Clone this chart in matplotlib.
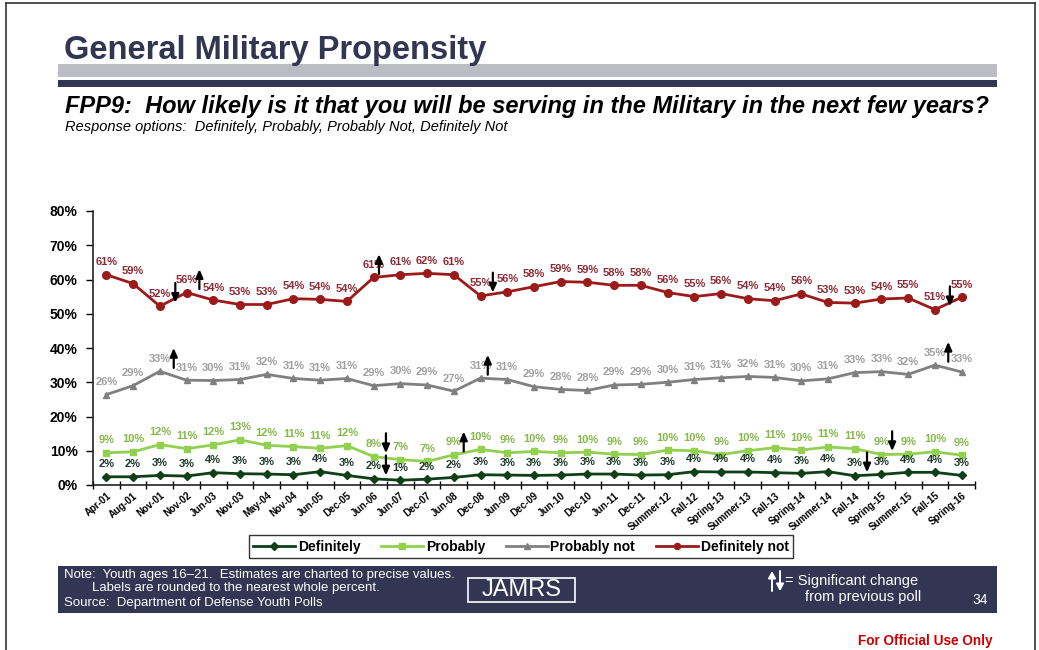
import matplotlib
matplotlib.use("Agg")
import matplotlib.pyplot as plt
from matplotlib.patches import Rectangle, FancyArrowPatch
from matplotlib.lines import Line2D
import numpy as np

plt.rcParams['font.family'] = ['Liberation Sans', 'DejaVu Sans']

# Survey waves
waves = ["Apr-01", "Aug-01", "Nov-01", "Nov-02", "Jun-03", "Nov-03", "May-04", "Nov-04",
         "Jun-05", "Dec-05", "Jun-06", "Jun-07", "Dec-07", "Jun-08", "Dec-08", "Jun-09",
         "Dec-09", "Jun-10", "Dec-10", "Jun-11", "Dec-11", "Summer-12", "Fall-12",
         "Spring-13", "Summer-13", "Fall-13", "Spring-14", "Summer-14", "Fall-14",
         "Spring-15", "Summer-15", "Fall-15", "Spring-16"]

# Response shares (%)
definitely = [2.4, 2.4, 2.8, 2.6, 3.6, 3.3, 3.2, 3.0, 3.9, 2.8, 1.8, 1.4, 1.7, 2.2, 3.0, 2.9,
              2.8, 2.9, 3.2, 3.2, 2.9, 3.0, 3.9, 3.8, 3.8, 3.6, 3.4, 3.9, 2.7, 3.1, 3.7, 3.7, 2.8]
probably = [9.4, 9.7, 11.8, 10.6, 11.7, 13.2, 11.6, 11.2, 10.7, 11.5, 8.3, 7.4, 6.9, 8.8, 10.4,
            9.4, 9.8, 9.4, 9.6, 9.0, 8.9, 10.2, 10.0, 8.9, 10.0, 10.9, 10.2, 11.1, 10.6, 8.9,
            9.0, 9.7, 8.7]
probably_not = [26.4, 29.0, 33.2, 30.6, 30.5, 30.8, 32.3, 31.1, 30.6, 31.1, 29.0, 29.6, 29.2,
                27.4, 31.2, 30.8, 28.7, 27.9, 27.6, 29.2, 29.4, 30.0, 30.8, 31.3, 31.7, 31.4,
                30.4, 31.0, 32.8, 33.1, 32.3, 35.0, 33.0]
definitely_not = [61.4, 58.8, 52.2, 56.2, 54.0, 52.7, 52.7, 54.4, 54.2, 53.6, 60.6, 61.4, 61.8,
                  61.4, 55.2, 56.4, 57.9, 59.4, 59.2, 58.3, 58.3, 56.2, 55.0, 55.9, 54.4, 53.8,
                  55.8, 53.3, 53.1, 54.3, 54.6, 51.2, 54.8]

# Significant changes: (series, wave index, direction, horizontal nudge)
sig_changes = [
    ("Definitely not", 2, "down", 0.58), ("Definitely not", 3, "up", 0.48),
    ("Definitely not", 10, "up", 0.2), ("Definitely not", 14, "down", 0.46),
    ("Definitely not", 31, "down", 0.56), ("Definitely not", 32, "up", 0.55),
    ("Probably not", 2, "up", 0.52), ("Probably not", 14, "up", 0.27),
    ("Probably not", 31, "up", 0.5),
    ("Probably", 10, "down", 0.46), ("Probably", 13, "up", 0.37),
    ("Probably", 29, "down", 0.4),
    ("Definitely", 10, "down", 0.46), ("Definitely", 28, "down", 0.46),
]

series = [
    ("Definitely", definitely, "#0e3f17", "D", "#1f3a2c", 4.5),
    ("Probably", probably, "#92d050", "s", "#86b84a", 5),
    ("Probably not", probably_not, "#808080", "^", "#a0a0a0", 5),
    ("Definitely not", definitely_not, "#9c1a1a", "o", "#8e2a36", 5.5),
]

NAVY = "#333652"
W, H = 1039, 650
fig = plt.figure(figsize=(W / 100, H / 100), dpi=100)

def fx(px):
    return px / W

def fy(py):
    return 1 - py / H

# Slide frame
fig.add_artist(Line2D([fx(6), fx(6)], [0, fy(3)], color="#333333", lw=1.2))
fig.add_artist(Line2D([fx(6), fx(1035)], [fy(3), fy(3)], color="#333333", lw=1.2))
fig.add_artist(Line2D([fx(1035), fx(1035)], [fy(3), 0], color="#333333", lw=1.2))

# Header
fig.text(fx(64), fy(50), "General Military Propensity", fontsize=23.5, fontweight="bold",
         color=NAVY, va="center", ha="left")
fig.add_artist(Rectangle((fx(58), fy(77)), fx(997 - 58), 13 / H, color="#bcbcc4", lw=0))
fig.add_artist(Rectangle((fx(58), fy(87)), fx(997 - 58), 7 / H, color=NAVY, lw=0))
fig.text(fx(65), fy(107), "FPP9:  How likely is it that you will be serving in the Military in the next few years?",
         fontsize=17, fontweight="bold", fontstyle="italic", color="black", va="center", ha="left")
fig.text(fx(65), fy(127), "Response options:  Definitely, Probably, Probably Not, Definitely Not",
         fontsize=10.5, fontstyle="italic", color="black", va="center", ha="left")

# Chart
ax = fig.add_axes([fx(93), fy(485), fx(975 - 93), (485 - 211) / H])
x = np.arange(len(waves))
values_by_name = {}
handles = []
for name, vals, col, mk, lab_col, ms in series:
    values_by_name[name] = vals
    h, = ax.plot(x, vals, color=col, lw=2, marker=mk, markersize=ms, markeredgecolor=col,
                 markerfacecolor=col, label=name, zorder=3)
    handles.append(h)
    for xi, v in zip(x, vals):
        ax.annotate(f"{v:.0f}%", (xi, v), xytext=(0, 9), textcoords="offset points",
                    ha="center", va="center", fontsize=8, fontweight="bold", color=lab_col,
                    zorder=4)

for name, idx, direction, dx in sig_changes:
    v = values_by_name[name][idx]
    lo, hi = v + 1.0, v + 6.8
    start, end = (lo, hi) if direction == "up" else (hi, lo)
    ax.annotate("", xy=(idx + dx, end), xytext=(idx + dx, start),
                arrowprops=dict(arrowstyle="-|>,head_length=0.5,head_width=0.22",
                                color="black", lw=1.6, shrinkA=0, shrinkB=0), zorder=5)

ax.set_xlim(-0.5, len(waves) - 0.5)
ax.set_ylim(0, 80)
ax.set_yticks(np.arange(0, 81, 10))
ax.set_yticklabels([f"{t}%" for t in range(0, 81, 10)], fontsize=10, fontweight="bold")
ax.set_xticks(x)
ax.set_xticklabels(waves, rotation=40, ha="right", rotation_mode="anchor",
                   fontsize=7, fontweight="bold")
ax.tick_params(axis="x", which="major", length=0, pad=4)
ax.set_xticks(np.arange(-0.5, len(waves), 1), minor=True)
ax.tick_params(axis="x", which="minor", length=6, direction="inout", width=1)
ax.tick_params(axis="y", length=5, width=1, direction="out", pad=6)
for s in ["top", "right"]:
    ax.spines[s].set_visible(False)
for s in ["left", "bottom"]:
    ax.spines[s].set_linewidth(1.2)
    ax.spines[s].set_color("#222222")

leg = fig.legend(handles=handles, loc="center", bbox_to_anchor=(fx(521), fy(546.5)),
                 ncol=4, frameon=True, fancybox=False, edgecolor="black",
                 prop={"weight": "bold", "size": 10}, handlelength=3, numpoints=1,
                 markerscale=0.8, columnspacing=1.5, handletextpad=0.2, borderpad=0.3)
leg.get_frame().set_linewidth(1.0)

# Footer band
fig.add_artist(Rectangle((fx(58), fy(613)), fx(997 - 58), 47 / H, color=NAVY, lw=0))
fig.text(fx(64), fy(575), "Note:  Youth ages 16\u201321.  Estimates are charted to precise values.",
         fontsize=9.5, color="white", va="center")
fig.text(fx(92), fy(588), "Labels are rounded to the nearest whole percent.",
         fontsize=9.5, color="white", va="center")
fig.text(fx(64), fy(603), "Source:  Department of Defense Youth Polls",
         fontsize=9.5, color="white", va="center")
fig.add_artist(Rectangle((fx(468), fy(602)), fx(575 - 468), 24 / H, facecolor="none",
                         edgecolor="white", lw=1.2))
fig.text(fx(521.5), fy(590), "JAMRS", fontsize=17, color="white", va="center", ha="center")

# Key for the significance arrows
for ax_x, (y0, y1) in [(772, (591, 571)), (780, (571, 591))]:
    fig.add_artist(FancyArrowPatch((fx(ax_x), fy(y0)), (fx(ax_x), fy(y1)),
                                   arrowstyle="-|>,head_length=4,head_width=2.2",
                                   color="white", lw=1.4, shrinkA=0, shrinkB=0,
                                   transform=fig.transFigure))
fig.text(fx(785), fy(581), "= Significant change", fontsize=10.5, color="white", va="center")
fig.text(fx(805), fy(597), "from previous poll", fontsize=10.5, color="white", va="center")
fig.text(fx(980), fy(600), "34", fontsize=10, color="white", va="center", ha="center")

fig.text(fx(993), fy(641), "For Official Use Only", fontsize=9.8, fontweight="bold",
         color="#cc0000", va="center", ha="right")

fig.savefig("out.png", dpi=100)
